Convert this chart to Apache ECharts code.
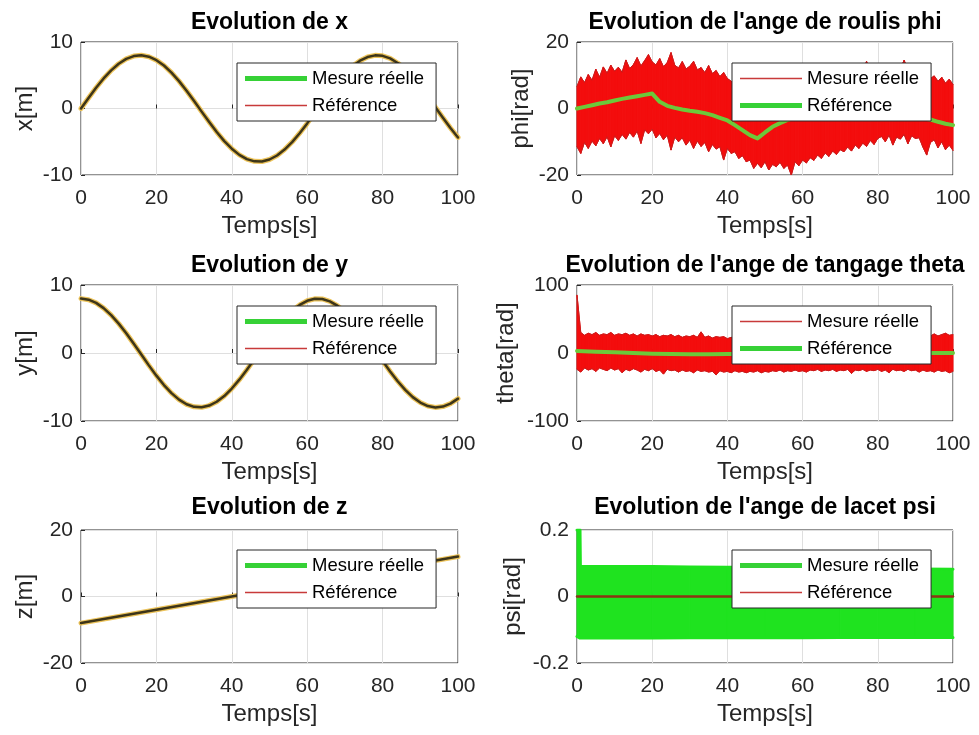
<!DOCTYPE html>
<html>
<head>
<meta charset="utf-8">
<script src="https://cdn.jsdelivr.net/npm/echarts@6/dist/echarts.min.js"></script>
<style>
  html, body { margin: 0; padding: 0; background: #ffffff; }
  #chart { width: 979px; height: 735px; }
</style>
</head>
<body>
<div id="chart"></div>
<script>
// ---- Sample times (s) ----
const tTraj = [0,2,4,6,8,10,12,14,16,18,20,22,24,26,28,30,32,34,36,38,40,42,44,46,48,50,
  52,54,56,58,60,62,64,66,68,70,72,74,76,78,80,82,84,86,88,90,92,94,96,98,100];
const tFine = [0,1,2,3,4,5,6,7,8,9,10,11,12,13,14,15,16,17,18,19,20,21,22,23,24,25,26,27,28,29,
  30,31,32,33,34,35,36,37,38,39,40,41,42,43,44,45,46,47,48,49,50,51,52,53,54,55,56,57,58,59,
  60,61,62,63,64,65,66,67,68,69,70,71,72,73,74,75,76,77,78,79,80,81,82,83,84,85,86,87,88,89,
  90,91,92,93,94,95,96,97,98,99,100];

// ---- Position x, y (m): measured and reference coincide ----
const xTraj = [0,1.59,3.12,4.52,5.74,6.73,7.46,7.88,8.00,7.79,7.27,6.47,5.40,4.12,2.68,1.13,
  -0.47,-2.04,-3.54,-4.90,-6.05,-6.97,-7.61,-7.95,-7.97,-7.67,-7.07,-6.18,-5.05,-3.72,-2.24,-0.66,
  0.93,2.49,3.95,5.26,6.35,7.19,7.74,7.99,7.92,7.53,6.84,5.88,4.68,3.30,1.78,0.20,-1.39,-2.93,-4.35];
const yTraj = [8.00,7.84,7.37,6.60,5.57,4.32,2.90,1.36,-0.23,-1.82,-3.33,-4.71,-5.90,-6.86,-7.54,
  -7.92,-7.99,-7.73,-7.17,-6.33,-5.23,-3.92,-2.46,-0.90,0.70,2.27,3.75,5.08,6.20,7.08,7.68,7.97,
  7.95,7.60,6.96,6.03,4.87,3.51,2.01,0.43,-1.16,-2.71,-4.15,-5.43,-6.49,-7.29,-7.80,-8.00,-7.88,-7.44,-6.71];

// ---- Altitude z (m) ----
const zT = [0,20,40,60,80,100];
const zTraj = [-8,-4,0,4,8,12];

// ---- Roll phi (rad): measured envelope (per second) and reference ----
const phiHi = [6.6,9.5,7.8,10.2,8.5,11.8,9.4,12.5,10.6,13.0,11.2,12.4,10.9,14.6,12.0,13.2,15.3,12.8,14.4,16.2,
  14.0,13.1,15.0,12.6,13.8,16.8,13.0,12.2,14.1,11.9,12.7,14.2,11.6,12.3,10.8,12.9,10.5,11.4,9.6,10.8,
  9.0,8.2,7.4,6.6,5.0,3.8,3.0,2.5,2.8,3.5,4.2,5.0,6.0,5.5,7.0,7.5,6.8,8.0,8.5,7.6,
  9.0,8.4,9.5,10.0,9.2,10.4,9.8,11.0,10.2,11.3,10.6,11.5,10.8,12.0,11.2,12.3,11.0,14.2,11.6,12.4,
  11.4,12.6,11.8,12.8,11.5,13.0,12.0,14.5,11.8,12.2,10.8,11.6,9.8,10.5,9.0,9.8,8.2,9.4,7.6,8.8,7.2];
const phiLo = [-11.5,-13.5,-10.2,-12.0,-9.8,-11.2,-9.0,-10.6,-8.5,-11.5,-8.2,-9.6,-7.8,-9.2,-7.2,-8.6,-6.8,-10.5,-6.4,-7.6,
  -6.2,-8.8,-7.5,-9.4,-8.0,-12.5,-8.6,-10.0,-8.8,-11.0,-9.5,-12.0,-9.8,-11.4,-10.2,-13.0,-10.8,-12.2,-11.5,-15.5,
  -12.0,-13.5,-13.0,-15.0,-14.2,-16.0,-15.5,-18.0,-16.5,-17.8,-16.0,-18.5,-16.8,-17.5,-16.2,-18.0,-17.0,-20.0,-16.0,-17.2,
  -15.5,-16.4,-14.8,-15.6,-14.0,-15.0,-13.4,-14.4,-12.8,-13.8,-12.4,-13.0,-11.6,-12.8,-11.0,-12.0,-10.4,-11.4,-9.6,-10.8,
  -9.0,-8.4,-10.0,-8.0,-11.0,-8.6,-9.2,-7.8,-10.6,-8.2,-9.0,-8.8,-11.6,-14.0,-10.2,-9.4,-11.8,-10.0,-12.4,-11.0,-12.6];
const phiRef = [0,0.5,1.0,1.5,1.9,2.4,2.9,3.3,3.7,4.1,4.5,2.0,0.8,0.2,-0.3,-0.7,-1.0,-1.4,-2.0,-2.8,
  -3.6,-5.0,-6.5,-8.0,-9.0,-7.2,-5.5,-4.4,-3.4,-2.8,-2.5,-2.4,-2.4,-2.4,-2.5,-2.5,-2.5,-2.6,-2.6,-2.6,
  -2.6,-2.6,-2.7,-2.7,-2.8,-2.8,-3.0,-3.3,-4.0,-4.6,-5.0];

// ---- Pitch theta (rad): measured envelope (per second) and reference ----
const thetaHi = [85,30,26,29,27,30,26,28,27,30,26,28,27,29,26,28,25,28,26,27,
  25,27,24,26,25,27,24,26,23,25,24,26,23,31,23,25,22,24,23,24,
  21,23,22,24,21,23,22,23,21,23,22,24,21,23,22,24,21,23,22,24,
  22,24,21,23,22,24,22,25,23,24,22,25,23,24,22,25,23,25,23,26,
  24,25,23,26,24,25,23,26,24,26,25,27,24,26,25,28,25,27,29,26,27];
const thetaLo = [-24,-28,-22,-25,-23,-27,-22,-24,-26,-22,-25,-23,-29,-24,-26,-23,-25,-28,-24,-26,
  -23,-27,-25,-31,-24,-26,-25,-28,-25,-27,-26,-29,-25,-27,-26,-28,-27,-32,-26,-28,
  -27,-29,-26,-28,-27,-29,-27,-28,-26,-29,-27,-28,-26,-27,-25,-28,-26,-27,-25,-27,
  -26,-28,-25,-26,-24,-27,-25,-26,-24,-27,-25,-26,-24,-30,-25,-26,-24,-27,-25,-26,
  -24,-27,-25,-29,-24,-26,-25,-27,-24,-26,-25,-28,-25,-27,-26,-28,-25,-27,-26,-29,-27];
const thetaRefT = [0,5,10,15,20,25,30,35,40,45,50,55,60,65,70,75,80,85,90,95,100];
const thetaRef = [3,2,1,0,-1,-1.5,-2,-2,-1.5,-1.5,-1,-1,-0.5,-0.5,0,0,0,0,0,0,0];

// ---- Yaw psi (rad): measured envelope and reference ----
const psiT = [0,0.8,0.9,10,20,30,40,50,60,70,80,90,100];
const psiHi = [0.2,0.2,0.09,0.09,0.09,0.089,0.088,0.088,0.087,0.086,0.085,0.083,0.082];
const psiLo = [-0.12,-0.125,-0.125,-0.125,-0.125,-0.124,-0.124,-0.124,-0.124,-0.123,-0.123,-0.123,-0.123];
const psiRefT = [0,100];
const psiRef = [0,0];

// ---- Axis limits [min, max, step] ----
const timeAxis = [0,100,20];
const xLim = [-10,10,10], yLim = [-10,10,10], zLim = [-20,20,20];
const phiLim = [-20,20,20], thetaLim = [-100,100,100], psiLim = [-0.2,0.2,0.2];

const FONT = '"Liberation Sans", Arial, sans-serif';
const TXT = '#262626';

const pairs = (t, v) => t.map((ti, i) => [ti, v[i]]);

// filled envelope between lo and hi, one quad per sample interval
function bandData(t, lo, hi) {
  const out = [];
  for (let i = 0; i < t.length - 1; i++) {
    out.push([t[i], lo[i], hi[i], t[i + 1], lo[i + 1], hi[i + 1]]);
  }
  return out;
}
function bandSeries(gi, name, t, lo, hi, fill, z) {
  return {
    type: 'custom', name: name, xAxisIndex: gi, yAxisIndex: gi, z: z, silent: true,
    data: bandData(t, lo, hi),
    encode: { x: [0, 3], y: [1, 2, 4, 5] },
    renderItem: function (params, api) {
      const p = [
        api.coord([api.value(0), api.value(1)]),
        api.coord([api.value(0), api.value(2)]),
        api.coord([api.value(3), api.value(5)]),
        api.coord([api.value(3), api.value(4)])
      ];
      return { type: 'polygon', shape: { points: p }, style: { fill: fill, stroke: fill, lineWidth: 1 } };
    }
  };
}
function lineSeries(gi, name, t, v, color, width, z) {
  return {
    type: 'line', name: name, xAxisIndex: gi, yAxisIndex: gi, z: z, silent: true,
    data: pairs(t, v), symbol: 'none', showSymbol: false, animation: false,
    lineStyle: { color: color, width: width, join: 'round', cap: 'round' },
    itemStyle: { color: color }
  };
}

const grids = [
  { left: 81, top: 42, width: 377, height: 133 },
  { left: 577, top: 42, width: 376, height: 133 },
  { left: 81, top: 285, width: 377, height: 136 },
  { left: 577, top: 285, width: 376, height: 136 },
  { left: 81, top: 530, width: 377, height: 133 },
  { left: 577, top: 530, width: 376, height: 133 }
].map(g => Object.assign(g, { show: true, borderColor: '#262626', borderWidth: 1, backgroundColor: '#ffffff', containLabel: false }));

const titles = [
  ['Evolution de x', 269.5, 11.5],
  ["Evolution de l'ange de roulis phi", 765, 11.5],
  ['Evolution de y', 269.5, 254.5],
  ["Evolution de l'ange de tangage theta", 765, 254.5],
  ['Evolution de z', 269.5, 496.5],
  ["Evolution de l'ange de lacet psi", 765, 496.5]
].map(([text, x, y]) => ({
  text: text, left: x, top: y, textAlign: 'center', padding: 0,
  textStyle: { fontFamily: FONT, fontSize: 23, fontWeight: 'bold', color: '#000000' }
}));

const xAxes = grids.map((g, gi) => ({
  gridIndex: gi, type: 'value', min: timeAxis[0], max: timeAxis[1], interval: timeAxis[2],
  name: 'Temps[s]', nameLocation: 'middle', nameGap: 39,
  nameTextStyle: { fontFamily: FONT, fontSize: 24, color: TXT },
  axisLine: { show: false },
  axisTick: { show: true, inside: true, length: 4, lineStyle: { color: '#262626' } },
  axisLabel: { fontFamily: FONT, fontSize: 21, color: TXT, margin: 13 },
  splitLine: { show: true, lineStyle: { color: '#dfdfdf', width: 1 } }
}));

const yDefs = [
  ['x[m]', xLim, 44], ['phi[rad]', phiLim, 44], ['y[m]', yLim, 44],
  ['theta[rad]', thetaLim, 59], ['z[m]', zLim, 44], ['psi[rad]', psiLim, 52]
];
const yAxes = yDefs.map(([name, lim, gap], gi) => ({
  gridIndex: gi, type: 'value', min: lim[0], max: lim[1], interval: lim[2],
  name: name, nameLocation: 'middle', nameGap: gap,
  nameTextStyle: { fontFamily: FONT, fontSize: 24, color: TXT },
  axisLine: { show: false },
  axisTick: { show: true, inside: true, length: 4, lineStyle: { color: '#262626' } },
  axisLabel: { fontFamily: FONT, fontSize: 21, color: TXT, margin: 8 },
  splitLine: { show: true, lineStyle: { color: '#dfdfdf', width: 1 } }
}));

// legend icons: thick and thin strokes
const THICK = 'path://M0,0H62V5H0Z';
const THIN = 'path://M0,0H62V1.5H0Z';
const GREEN_KEY = '#36d136';
const RED_KEY = '#c83a3a';
const legendAt = [[237, 63], [732, 63], [237, 306], [732, 306], [237, 550], [732, 550]];
const legends = legendAt.map(([x, y], gi) => {
  const measuredIsRed = (gi === 1 || gi === 3);
  return {
    left: x, top: y, orient: 'vertical', selectedMode: false,
    backgroundColor: '#ffffff', borderColor: '#262626', borderWidth: 1, borderRadius: 0,
    padding: [5, 12, 5, 8], itemGap: 6, itemWidth: 62, itemHeight: 14, symbolKeepAspect: true,
    textStyle: { fontFamily: FONT, fontSize: 18.5, color: '#000000', lineHeight: 21 },
    data: [
      { name: 'Mesure réelle', icon: measuredIsRed ? THIN : THICK,
        itemStyle: { color: measuredIsRed ? RED_KEY : GREEN_KEY, borderWidth: 0 } },
      { name: 'Référence', icon: measuredIsRed ? THICK : THIN,
        itemStyle: { color: measuredIsRed ? GREEN_KEY : RED_KEY, borderWidth: 0 } }
    ]
  };
});

const TRAJ_HALO = '#ecc35a';
const TRAJ_CORE = '#3d3519';
const BAND_RED = '#f30d0d';
const EDGE_RED = '#c81e1e';
const REF_GREEN = '#6cc93a';
const BAND_GREEN = '#1fe31f';

const series = [
  // x
  lineSeries(0, 'Mesure réelle', tTraj, xTraj, TRAJ_HALO, 5, 2),
  lineSeries(0, 'Référence', tTraj, xTraj, TRAJ_CORE, 2.5, 3),
  // y
  lineSeries(2, 'Mesure réelle', tTraj, yTraj, TRAJ_HALO, 5, 2),
  lineSeries(2, 'Référence', tTraj, yTraj, TRAJ_CORE, 2.5, 3),
  // z
  lineSeries(4, 'Mesure réelle', zT, zTraj, TRAJ_HALO, 5, 2),
  lineSeries(4, 'Référence', zT, zTraj, TRAJ_CORE, 2.5, 3),
  // phi
  bandSeries(1, 'Mesure réelle', tFine, phiLo, phiHi, BAND_RED, 2),
  lineSeries(1, 'Mesure réelle', tFine, phiHi, EDGE_RED, 1, 2),
  lineSeries(1, 'Mesure réelle', tFine, phiLo, EDGE_RED, 1, 2),
  lineSeries(1, 'Référence', tTraj, phiRef, REF_GREEN, 4, 3),
  // theta
  bandSeries(3, 'Mesure réelle', tFine, thetaLo, thetaHi, BAND_RED, 2),
  lineSeries(3, 'Mesure réelle', tFine, thetaHi, EDGE_RED, 1, 2),
  lineSeries(3, 'Mesure réelle', tFine, thetaLo, EDGE_RED, 1, 2),
  lineSeries(3, 'Référence', thetaRefT, thetaRef, REF_GREEN, 4, 3),
  // psi
  bandSeries(5, 'Mesure réelle', psiT, psiLo, psiHi, BAND_GREEN, 2),
  lineSeries(5, 'Mesure réelle', psiT, psiHi, BAND_GREEN, 3, 2),
  lineSeries(5, 'Mesure réelle', psiT, psiLo, BAND_GREEN, 3, 2),
  lineSeries(5, 'Référence', psiRefT, psiRef, '#8c3414', 2.5, 3)
];

const chart = echarts.init(document.getElementById('chart'), null, { renderer: 'canvas' });
chart.setOption({
  animation: false,
  backgroundColor: '#ffffff',
  title: titles,
  grid: grids,
  xAxis: xAxes,
  yAxis: yAxes,
  legend: legends,
  series: series
});
</script>
</body>
</html>
